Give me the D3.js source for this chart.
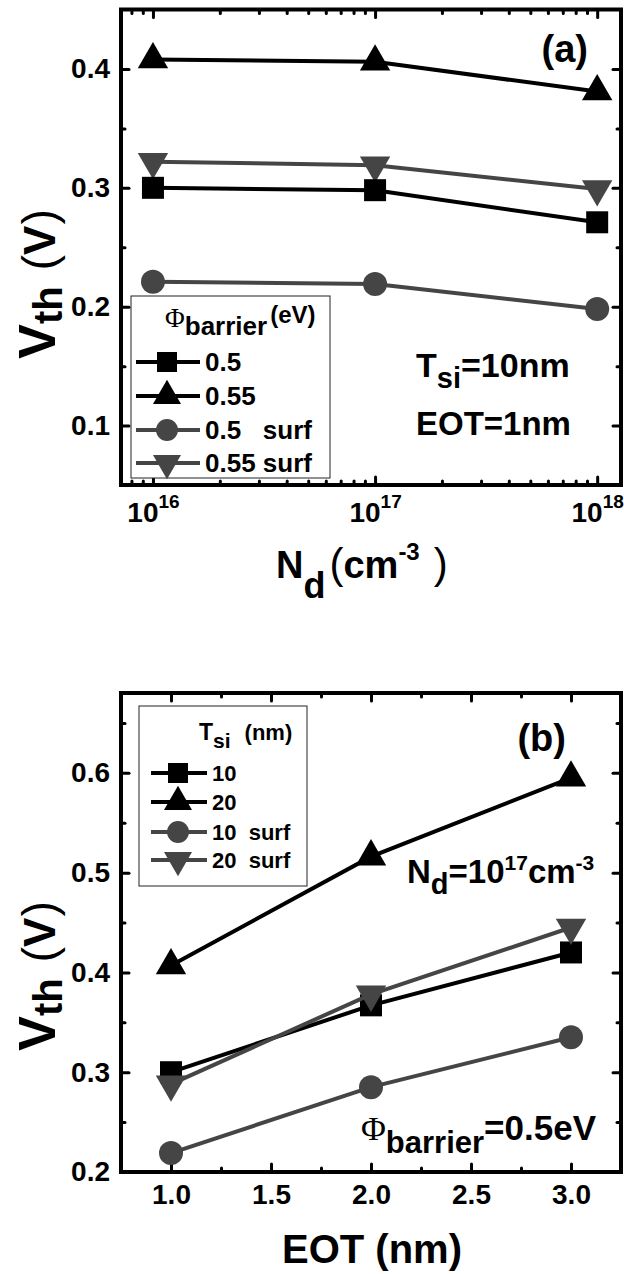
<!DOCTYPE html>
<html>
<head>
<meta charset="utf-8">
<script src="https://cdnjs.cloudflare.com/ajax/libs/d3/7.8.5/d3.min.js"></script>
<style>
  body { margin: 0; background: #fff; }
  text { font-family: "Liberation Sans", Arial, sans-serif; font-weight: bold; fill: #000; }
</style>
</head>
<body>
<script>
// panel (a): Vth vs Nd
var ndValues = [1e16, 1e17, 1e18];
var ndExponents = ["16", "17", "18"];
var vthA_05 = [0.300, 0.298, 0.271];
var vthA_055 = [0.408, 0.406, 0.381];
var vthA_05surf = [0.221, 0.219, 0.198];
var vthA_055surf = [0.322, 0.319, 0.299];
var seriesNamesA = ["0.5", "0.55", "0.5   surf", "0.55 surf"];
var yTicksA = [0.1, 0.2, 0.3, 0.4];
var yMinorA = [0.15, 0.25, 0.35];

// panel (b): Vth vs EOT
var eotValues = [1, 2, 3];
var vthB_10 = [0.300, 0.367, 0.420];
var vthB_20 = [0.407, 0.516, 0.595];
var vthB_10surf = [0.219, 0.285, 0.335];
var vthB_20surf = [0.288, 0.378, 0.445];
var seriesNamesB = ["10", "20", "10  surf", "20  surf"];
var xTicksB = [1.0, 1.5, 2.0, 2.5, 3.0];
var xMinorB = [1.25, 1.75, 2.25, 2.75];
var yTicksB = [0.2, 0.3, 0.4, 0.5, 0.6];
var yMinorB = [0.25, 0.35, 0.45, 0.55, 0.65];

var black = "#000000", gray = "#454545";

var svg = d3.select("body").append("svg")
            .attr("width", 624)
            .attr("height", 1274);

var xA = d3.scaleLog().domain([7.18e15, 1.28e18]).range([121, 621]);
var yA = d3.scaleLinear().domain([0.05, 0.45]).range([485, 9.5]);
var xB = d3.scaleLinear().domain([0.75, 3.25]).range([121, 621]);
var yB = d3.scaleLinear().domain([0.2, 0.68]).range([1172, 693]);

var markSize = { square: 484, triangle: 400, circle: 452 };
var legSize = { square: 400, triangle: 340, circle: 380 };
var serif = "font-family:'Liberation Serif',serif;font-weight:normal";
var thin = "font-weight:normal";

var styleTicks = function(g) {
  g.select(".domain").remove();
  g.selectAll(".tick line").attr("stroke", black).attr("stroke-width", 3).attr("stroke-linecap", "round");
  g.selectAll(".tick text").remove();
};

// ticks on all four sides, pointing in
var drawTicks = function(x, y, xMajor, xMinor, yMajor, yMinor) {
  var top = y.range()[1], bottom = y.range()[0];
  var left = x.range()[0], right = x.range()[1];
  [[xMajor, 8], [xMinor, 4]].forEach(function(t) {
    svg.append("g").attr("transform", "translate(0," + bottom + ")")
       .call(d3.axisBottom(x).tickValues(t[0]).tickSize(-t[1])).call(styleTicks);
    svg.append("g").attr("transform", "translate(0," + top + ")")
       .call(d3.axisTop(x).tickValues(t[0]).tickSize(-t[1])).call(styleTicks);
  });
  [[yMajor, 8], [yMinor, 4]].forEach(function(t) {
    svg.append("g").attr("transform", "translate(" + left + ",0)")
       .call(d3.axisLeft(y).tickValues(t[0]).tickSize(-t[1])).call(styleTicks);
    svg.append("g").attr("transform", "translate(" + right + ",0)")
       .call(d3.axisRight(y).tickValues(t[0]).tickSize(-t[1])).call(styleTicks);
  });
  svg.append("rect")
     .attr("x", left).attr("y", top)
     .attr("width", right - left).attr("height", bottom - top)
     .attr("fill", "none").attr("stroke", black).attr("stroke-width", 4);
};

var symbolOf = function(shape) {
  return shape === "square" ? d3.symbolSquare : shape === "circle" ? d3.symbolCircle : d3.symbolTriangle;
};

var drawSeries = function(x, y, xs, ys, color, shape, flip) {
  var pts = xs.map(function(d, i) { return [d, ys[i]]; });
  var line = d3.line().x(function(d) { return x(d[0]); }).y(function(d) { return y(d[1]); });
  svg.append("path").attr("d", line(pts))
     .attr("fill", "none").attr("stroke", color).attr("stroke-width", 4);
  svg.selectAll(null).data(pts).enter()
     .append("path")
     .attr("d", d3.symbol().type(symbolOf(shape)).size(markSize[shape]))
     .attr("transform", function(d) { return "translate(" + x(d[0]) + "," + y(d[1]) + ")" + (flip ? " rotate(180)" : ""); })
     .attr("fill", color);
};

// text made of pieces: [string, size, dy, style, dx]
var richText = function(x, y, parts, anchor, rotate) {
  var t = svg.append("text").attr("x", x).attr("y", y).attr("text-anchor", anchor || "start");
  if (rotate) t.attr("transform", "rotate(-90," + x + "," + y + ")");
  parts.forEach(function(p) {
    var s = t.append("tspan").text(p[0]).attr("font-size", p[1]);
    if (p[2]) s.attr("dy", p[2]);
    if (p[3]) s.attr("style", p[3]);
    if (p[4]) s.attr("dx", p[4]);
  });
  return t;
};

var drawLegend = function(box, rows, lineX, names, colors, shapes, flips, fontSize) {
  svg.append("rect").attr("x", box[0]).attr("y", box[1]).attr("width", box[2]).attr("height", box[3])
     .attr("fill", "#fff").attr("stroke", "#222").attr("stroke-width", 1);
  names.forEach(function(n, i) {
    svg.append("line").attr("x1", lineX[0]).attr("x2", lineX[2]).attr("y1", rows[i]).attr("y2", rows[i])
       .attr("stroke", colors[i]).attr("stroke-width", 4);
    svg.append("path")
       .attr("d", d3.symbol().type(symbolOf(shapes[i])).size(legSize[shapes[i]]))
       .attr("transform", "translate(" + lineX[1] + "," + rows[i] + ")" + (flips[i] ? " rotate(180)" : ""))
       .attr("fill", colors[i]);
    svg.append("text").attr("x", lineX[2] + 5).attr("y", rows[i]).attr("dy", "0.36em")
       .attr("font-size", fontSize).style("white-space", "pre").text(n);
  });
};

var vthLabel = function(cy) {
  richText(55, cy, [["V", 52], ["th", 40, 7], ["(", 46, -7, thin, 16], ["V", 44], [")", 46, 0, thin, 1]], "middle", true);
};

// ---------- panel (a) ----------
drawTicks(xA, yA, ndValues,
          xA.ticks().filter(function(d) { return ndValues.indexOf(d) < 0; }),
          yTicksA, yMinorA);

var yLabA = svg.append("g").attr("transform", "translate(121,0)")
               .call(d3.axisLeft(yA).tickValues(yTicksA).tickSize(0).tickPadding(11).tickFormat(d3.format(".1f")));
yLabA.select(".domain").remove();
yLabA.selectAll("text").attr("font-size", 28).attr("fill", black);

var xLabA = svg.append("g").attr("transform", "translate(0,485)")
               .call(d3.axisBottom(xA).tickValues(ndValues).tickSize(0).tickPadding(17));
xLabA.select(".domain").remove();
xLabA.selectAll("text").attr("font-size", 28).attr("fill", black).text(null)
     .each(function(d, i) {
       d3.select(this).append("tspan").text("10");
       d3.select(this).append("tspan").text(ndExponents[i]).attr("font-size", 19).attr("dy", -14);
     });

drawSeries(xA, yA, ndValues, vthA_05surf, gray, "circle", false);
drawSeries(xA, yA, ndValues, vthA_055surf, gray, "triangle", true);
drawSeries(xA, yA, ndValues, vthA_05, black, "square", false);
drawSeries(xA, yA, ndValues, vthA_055, black, "triangle", false);

drawLegend([131, 296, 199, 182], [362, 396, 430, 463], [136, 167, 200], seriesNamesA,
           [black, black, gray, gray], ["square", "triangle", "circle", "triangle"],
           [false, false, false, true], 26);
richText(165, 327, [["\u03A6", 27, 0, serif], ["barrier", 26, 8], ["(eV)", 24, -12, null, 3]]);

richText(588, 62, [["(a)", 38]], "end");
richText(416, 377, [["T", 34], ["si", 29, 11], ["=10nm", 34, -11]]);
richText(416, 435, [["EOT=1nm", 33]]);

richText(276, 578, [["N", 38], ["d", 36, 20], ["(", 42, -20, thin, 4], ["cm", 38],
                    ["-3", 24, -18], [")", 42, 18, thin, 14]]);

vthLabel(284);

// ---------- panel (b) ----------
drawTicks(xB, yB, xTicksB, xMinorB, yTicksB, yMinorB);

var yLabB = svg.append("g").attr("transform", "translate(121,0)")
               .call(d3.axisLeft(yB).tickValues(yTicksB).tickSize(0).tickPadding(11).tickFormat(d3.format(".1f")));
yLabB.select(".domain").remove();
yLabB.selectAll("text").attr("font-size", 28).attr("fill", black);

var xLabB = svg.append("g").attr("transform", "translate(0,1172)")
               .call(d3.axisBottom(xB).tickValues(xTicksB).tickSize(0).tickPadding(12).tickFormat(d3.format(".1f")));
xLabB.select(".domain").remove();
xLabB.selectAll("text").attr("font-size", 28).attr("fill", black);

drawSeries(xB, yB, eotValues, vthB_10surf, gray, "circle", false);
drawSeries(xB, yB, eotValues, vthB_10, black, "square", false);
drawSeries(xB, yB, eotValues, vthB_20surf, gray, "triangle", true);
drawSeries(xB, yB, eotValues, vthB_20, black, "triangle", false);

drawLegend([139, 706, 168, 180], [773, 802, 832, 860], [151, 178, 207], seriesNamesB,
           [black, black, gray, gray], ["square", "triangle", "circle", "triangle"],
           [false, false, false, true], 22);
richText(199, 740, [["T", 23], ["si", 21, 8], ["(nm)", 22, -8, null, 14]]);

richText(566, 751, [["(b)", 38]], "end");
richText(407, 883, [["N", 33], ["d", 29, 11], ["=10", 33, -11], ["17", 21, -13],
                    ["cm", 33, 13], ["-3", 21, -13]]);
richText(361, 1140, [["\u03A6", 34, 0, serif], ["barrier", 31, 13], ["=0.5eV", 35, -13]]);

richText(372, 1263, [["EOT (nm)", 40]], "middle");

vthLabel(976);
</script>
</body>
</html>
